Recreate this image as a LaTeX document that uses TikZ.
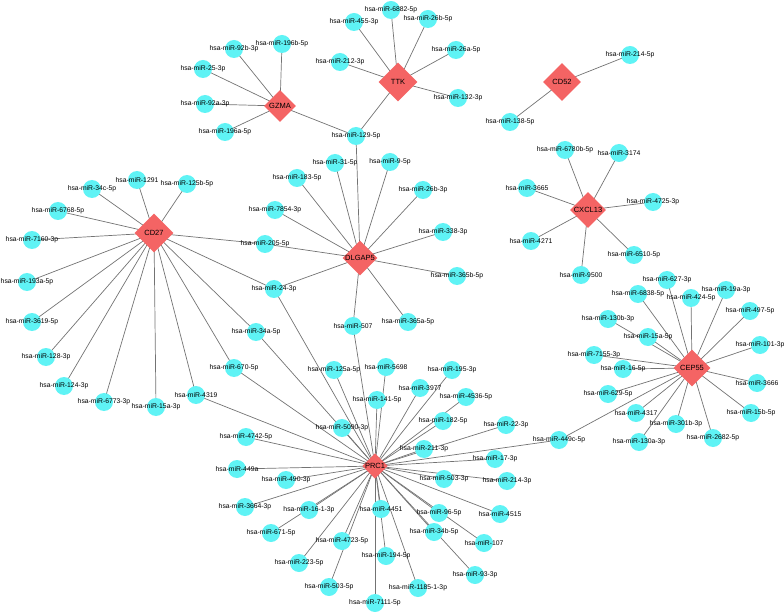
\documentclass[tikz,border=0pt]{standalone}
\usepackage{fontspec}
\setmainfont{Liberation Sans}
\usetikzlibrary{shapes.geometric,backgrounds}
\definecolor{mirblue}{HTML}{5FF3F5}
\definecolor{genered}{HTML}{F46464}
\tikzset{
  mir/.style={circle,fill=mirblue,minimum size=18pt,inner sep=0pt,
    label={[font=\fontsize{6.8}{7}\selectfont,inner sep=0pt]center:#1}},
  gene/.style={diamond,fill=genered,aspect=1,inner sep=0pt,minimum size=#1,
    font=\fontsize{7.5}{8}\selectfont},
  link/.style={draw=black!55,line width=0.7pt}
}
\begin{document}
\begin{tikzpicture}[x=1pt,y=-1pt]
              \useasboundingbox (0,0) rectangle (784,612);
              % genes
              \node[gene=32pt] (GZMA) at (280,106) {GZMA};
              \node[gene=39pt] (TTK) at (398,82) {TTK};
              \node[gene=38pt] (CD52) at (562,82) {CD52};
              \node[gene=36pt] (CXCL13) at (588,210) {CXCL13};
              \node[gene=30pt] (DLGAP5) at (360,258) {DLGAP5};
              \node[gene=39pt] (CD27) at (154,233) {CD27};
              \node[gene=25pt] (PRC1) at (375,466) {PRC1};
              \node[gene=37pt] (CEP55) at (692,368) {CEP55};
              % GZMA and TTK
              \node[mir=hsa-miR-92b-3p] (m92b3p) at (234,49) {};
              \node[mir=hsa-miR-196b-5p] (m196b5p) at (282,44) {};
              \node[mir=hsa-miR-25-3p] (m253p) at (203,69) {};
              \node[mir=hsa-miR-92a-3p] (m92a3p) at (205,104) {};
              \node[mir=hsa-miR-196a-5p] (m196a5p) at (225,132) {};
              \node[mir=hsa-miR-6882-5p] (m68825p) at (391,10) {};
              \node[mir=hsa-miR-455-3p] (m4553p) at (354,22) {};
              \node[mir=hsa-miR-26b-5p] (m26b5p) at (428,19) {};
              \node[mir=hsa-miR-212-3p] (m2123p) at (340,62) {};
              \node[mir=hsa-miR-26a-5p] (m26a5p) at (456,50) {};
              \node[mir=hsa-miR-132-3p] (m1323p) at (458,98) {};
              \node[mir=hsa-miR-129-5p] (m1295p) at (356,136) {};
              % CD52 and CXCL13
              \node[mir=hsa-miR-214-5p] (m2145p) at (630,55) {};
              \node[mir=hsa-miR-138-5p] (m1385p) at (510,122) {};
              \node[mir=hsa-miR-6780b-5p] (m6780b5p) at (565,150) {};
              \node[mir=hsa-miR-3174] (m3174) at (619,153) {};
              \node[mir=hsa-miR-3665] (m3665) at (527,188) {};
              \node[mir=hsa-miR-4725-3p] (m47253p) at (653,202) {};
              \node[mir=hsa-miR-4271] (m4271) at (531,241) {};
              \node[mir=hsa-miR-6510-5p] (m65105p) at (634,255) {};
              \node[mir=hsa-miR-9500] (m9500) at (581,275) {};
              % DLGAP5
              \node[mir=hsa-miR-31-5p] (m315p) at (335,163) {};
              \node[mir=hsa-miR-9-5p] (m95p) at (390,162) {};
              \node[mir=hsa-miR-183-5p] (m1835p) at (297,178) {};
              \node[mir=hsa-miR-26b-3p] (m26b3p) at (423,190) {};
              \node[mir=hsa-miR-7854-3p] (m78543p) at (275,210) {};
              \node[mir=hsa-miR-338-3p] (m3383p) at (443,232) {};
              \node[mir=hsa-miR-205-5p] (m2055p) at (265,244) {};
              \node[mir=hsa-miR-365b-5p] (m365b5p) at (457,276) {};
              \node[mir=hsa-miR-24-3p] (m243p) at (274,289) {};
              \node[mir=hsa-miR-507] (m507) at (353,326) {};
              \node[mir=hsa-miR-365a-5p] (m365a5p) at (408,322) {};
              % CD27
              \node[mir=hsa-miR-34c-5p] (m34c5p) at (92,189) {};
              \node[mir=hsa-miR-1291] (m1291) at (137,180) {};
              \node[mir=hsa-miR-125b-5p] (m125b5p) at (187,184) {};
              \node[mir=hsa-miR-6768-5p] (m67685p) at (58,211) {};
              \node[mir=hsa-miR-7160-3p] (m71603p) at (32,240) {};
              \node[mir=hsa-miR-193a-5p] (m193a5p) at (27,282) {};
              \node[mir=hsa-miR-3619-5p] (m36195p) at (32,322) {};
              \node[mir=hsa-miR-128-3p] (m1283p) at (46,357) {};
              \node[mir=hsa-miR-124-3p] (m1243p) at (64,386) {};
              \node[mir=hsa-miR-6773-3p] (m67733p) at (104,402) {};
              \node[mir=hsa-miR-15a-3p] (m15a3p) at (156,407) {};
              \node[mir=hsa-miR-4319] (m4319) at (196,395) {};
              \node[mir=hsa-miR-670-5p] (m6705p) at (234,368) {};
              \node[mir=hsa-miR-34a-5p] (m34a5p) at (256,332) {};
              % PRC1
              \node[mir=hsa-miR-125a-5p] (m125a5p) at (334,370) {};
              \node[mir=hsa-miR-5698] (m5698) at (386,367) {};
              \node[mir=hsa-miR-195-3p] (m1953p) at (452,370) {};
              \node[mir=hsa-miR-3977] (m3977) at (420,388) {};
              \node[mir=hsa-miR-141-5p] (m1415p) at (377,400) {};
              \node[mir=hsa-miR-4536-5p] (m45365p) at (466,397) {};
              \node[mir=hsa-miR-5090-3p] (m50903p) at (342,428) {};
              \node[mir=hsa-miR-182-5p] (m1825p) at (443,421) {};
              \node[mir=hsa-miR-4742-5p] (m47425p) at (246,437) {};
              \node[mir=hsa-miR-22-3p] (m223p) at (506,425) {};
              \node[mir=hsa-miR-211-3p] (m2113p) at (424,449) {};
              \node[mir=hsa-miR-449c-5p] (m449c5p) at (559,440) {};
              \node[mir=hsa-miR-17-3p] (m173p) at (495,459) {};
              \node[mir=hsa-miR-449a] (m449a) at (237,469) {};
              \node[mir=hsa-miR-490-3p] (m4903p) at (286,480) {};
              \node[mir=hsa-miR-503-3p] (m5033p) at (444,479) {};
              \node[mir=hsa-miR-214-3p] (m2143p) at (507,481) {};
              \node[mir=hsa-miR-3664-3p] (m36643p) at (245,507) {};
              \node[mir=hsa-miR-16-1-3p] (m1613p) at (309,510) {};
              \node[mir=hsa-miR-4451] (m4451) at (381,509) {};
              \node[mir=hsa-miR-4515] (m4515) at (500,514) {};
              \node[mir=hsa-miR-671-5p] (m6715p) at (271,533) {};
              \node[mir=hsa-miR-96-5p] (m965p) at (439,513) {};
              \node[mir=hsa-miR-107] (m107) at (484,543) {};
              \node[mir=hsa-miR-4723-5p] (m47235p) at (342,541) {};
              \node[mir=hsa-miR-34b-5p] (m34b5p) at (434,532) {};
              \node[mir=hsa-miR-194-5p] (m1945p) at (386,556) {};
              \node[mir=hsa-miR-223-5p] (m2235p) at (299,563) {};
              \node[mir=hsa-miR-93-3p] (m933p) at (475,575) {};
              \node[mir=hsa-miR-503-5p] (m5035p) at (329,587) {};
              \node[mir=hsa-miR-1185-1-3p] (m118513p) at (418,588) {};
              \node[mir=hsa-miR-7111-5p] (m71115p) at (375,603) {};
              % CEP55
              \node[mir=hsa-miR-627-3p] (m6273p) at (667,280) {};
              \node[mir=hsa-miR-6838-5p] (m68385p) at (638,294) {};
              \node[mir=hsa-miR-424-5p] (m4245p) at (691,298) {};
              \node[mir=hsa-miR-19a-3p] (m19a3p) at (726,290) {};
              \node[mir=hsa-miR-497-5p] (m4975p) at (750,311) {};
              \node[mir=hsa-miR-130b-3p] (m130b3p) at (608,319) {};
              \node[mir=hsa-miR-15a-5p] (m15a5p) at (648,337) {};
              \node[mir=hsa-miR-101-3p] (m1013p) at (760,345) {};
              \node[mir=hsa-miR-7155-3p] (m71553p) at (594,355) {};
              \node[mir=hsa-miR-16-5p] (m165p) at (623,369) {};
              \node[mir=hsa-miR-3666] (m3666) at (757,383) {};
              \node[mir=hsa-miR-629-5p] (m6295p) at (608,394) {};
              \node[mir=hsa-miR-4317] (m4317) at (636,413) {};
              \node[mir=hsa-miR-15b-5p] (m15b5p) at (751,413) {};
              \node[mir=hsa-miR-301b-3p] (m301b3p) at (676,424) {};
              \node[mir=hsa-miR-2682-5p] (m26825p) at (713,438) {};
              \node[mir=hsa-miR-130a-3p] (m130a3p) at (639,442) {};
              % connectors
              \begin{scope}[on background layer]
              \foreach \m in {m92b3p,m196b5p,m253p,m92a3p,m196a5p,m1295p}
                \draw[link] (GZMA.center) -- (\m.center);
              \foreach \m in {m68825p,m4553p,m26b5p,m2123p,m26a5p,m1323p,m1295p}
                \draw[link] (TTK.center) -- (\m.center);
              \foreach \m in {m2145p,m1385p}
                \draw[link] (CD52.center) -- (\m.center);
              \foreach \m in {m6780b5p,m3174,m3665,m47253p,m4271,m65105p,m9500}
                \draw[link] (CXCL13.center) -- (\m.center);
              \foreach \m in {m1295p,m315p,m95p,m1835p,m26b3p,m78543p,m3383p,m2055p,m365b5p,m243p,m507,m365a5p}
                \draw[link] (DLGAP5.center) -- (\m.center);
              \foreach \m in {m34c5p,m1291,m125b5p,m67685p,m71603p,m193a5p,m36195p,m1283p,m1243p,m67733p,m15a3p,m4319,m6705p,m34a5p,m243p,m2055p}
                \draw[link] (CD27.center) -- (\m.center);
              \foreach \m in {m243p,m34a5p,m507,m6705p,m4319,m125a5p,m5698,m1953p,m3977,m1415p,m45365p,m50903p,m1825p,m47425p,m223p,m2113p,m449c5p,m173p,m449a,m4903p,m5033p,m2143p,m36643p,m1613p,m4451,m4515,m6715p,m965p,m107,m47235p,m34b5p,m1945p,m2235p,m933p,m5035p,m118513p,m71115p}
                \draw[link] (PRC1.center) -- (\m.center);
              \foreach \m in {m6273p,m68385p,m4245p,m19a3p,m4975p,m130b3p,m15a5p,m1013p,m71553p,m165p,m3666,m6295p,m4317,m15b5p,m301b3p,m26825p,m130a3p,m449c5p}
                \draw[link] (CEP55.center) -- (\m.center);
              \end{scope}
            \end{tikzpicture}
\end{document}
